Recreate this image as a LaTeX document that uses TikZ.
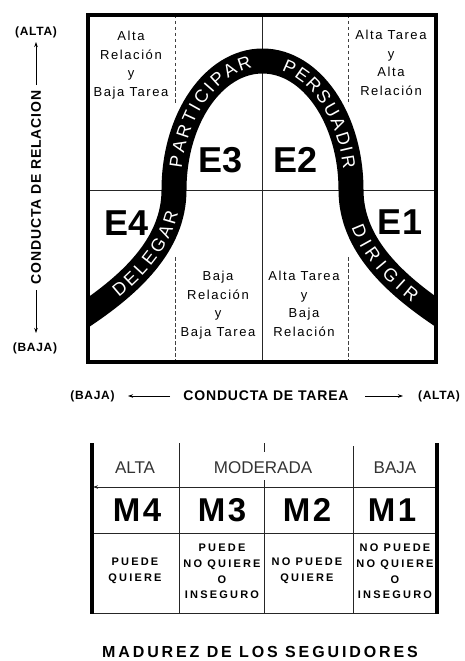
\documentclass[tikz,border=0pt]{standalone}
\usepackage{fontspec}
\setmainfont{Liberation Sans}
\newfontfamily\quadfont[LetterSpace=12]{Liberation Sans}
\newfontfamily\axisfont[LetterSpace=6]{Liberation Sans}
\newfontfamily\smallcapsfont[LetterSpace=20]{Liberation Sans}
\newfontfamily\titlefont[LetterSpace=18]{Liberation Sans}
\newfontfamily\mfont[LetterSpace=8]{Liberation Sans}
\newfontfamily\bandfont{Liberation Sans}
\usetikzlibrary{decorations.text,arrows.meta}
\begin{document}
\begin{tikzpicture}[x=1pt,y=1pt,
  quadtext/.style={align=center,inner sep=0pt,font=\quadfont\fontsize{13}{18.6}\selectfont},
  ebig/.style={inner sep=0pt,font=\bfseries\fontsize{36}{36}\selectfont},
  mbig/.style={inner sep=0pt,font=\mfont\bfseries\fontsize{33}{33}\selectfont},
  headtext/.style={inner sep=0pt,text=black!80,font=\fontsize{17}{17}\selectfont},
  celltext/.style={align=center,inner sep=0pt,font=\smallcapsfont\bfseries\fontsize{11}{15.7}\selectfont},
  axislabel/.style={inner sep=0pt,font=\axisfont\bfseries\fontsize{14}{14}\selectfont},
  parenlabel/.style={inner sep=0pt,font=\axisfont\bfseries\fontsize{12}{12}\selectfont},
  axisarrow/.style={line width=0.8pt,-{Stealth[length=5pt,width=3.5pt]}},
  thinline/.style={line width=0.9pt,black!85},
  dashline/.style={line width=0.8pt,black!75,dash pattern=on 3.5pt off 2.5pt},
]
\useasboundingbox (0,0) rectangle (464,-661);

% quadrant lines
\draw[thinline] (88,-190) -- (435.5,-190);
\draw[thinline] (262,-15) -- (262,-362);
\draw[dashline] (175,-15) -- (175,-104);
\draw[dashline] (175,-257) -- (175,-362);
\draw[dashline] (348,-15) -- (348,-102);
\draw[dashline] (348,-257) -- (348,-362);

% quadrant texts
\node[quadtext] (tl) at (131,-65) {Alta\\Relación\\y\\Baja Tarea};
\node[quadtext] (tr) at (391,-63) {Alta Tarea\\y\\Alta\\Relación};
\node[quadtext] (bl) at (218,-305) {Baja\\Relación\\y\\Baja Tarea};
\node[quadtext] (br) at (304,-304) {Alta Tarea\\y\\Baja\\Relación};

% the bell band
\begin{scope}
\clip (88,-15) rectangle (435.5,-362);
\draw[line width=25pt] (80,-318) .. controls (130,-285) and (174,-245) .. (174,-190)
  .. controls (174,-118.75) and (213.6,-61) .. (262.5,-61)
  .. controls (311.4,-61) and (351,-118.75) .. (351,-190)
  .. controls (351,-245) and (395,-285) .. (445,-318);
\end{scope}

% words on the band
\path[decorate,decoration={text along path,raise=-6.4pt,
   text={|\bandfont\fontsize{18}{18}\selectfont\color{white}\kern2.6pt|DELEGAR},
   text align={align=center,left indent=41pt,right indent=22pt}}]
  (80,-318) .. controls (130,-285) and (174,-245) .. (174,-190);
\path[decorate,decoration={text along path,raise=-6.4pt,
   text={|\bandfont\fontsize{18}{18}\selectfont\color{white}\kern3.3pt|PARTICIPAR},
   text align={align=center,left indent=19pt,right indent=12pt}}]
  (174,-190) .. controls (174,-118.75) and (213.6,-61) .. (262.5,-61);
\path[decorate,decoration={text along path,raise=-6.4pt,
   text={|\bandfont\fontsize{18}{18}\selectfont\color{white}\kern2.9pt|PERSUADIR},
   text align={align=center,left indent=19pt,right indent=22pt}}]
  (262.5,-61) .. controls (311.4,-61) and (351,-118.75) .. (351,-190);
\path[decorate,decoration={text along path,raise=-6.4pt,
   text={|\bandfont\fontsize{18}{18}\selectfont\color{white}\kern4.4pt|DIRIGIR},
   text align={align=center,left indent=32pt,right indent=36pt}}]
  (351,-190) .. controls (351,-245) and (395,-285) .. (445,-318);

% E labels
\node[ebig] (e3) at (221,-160) {E3};
\node[ebig] (e2) at (296,-160) {E2};
\node[ebig] (e4) at (127,-223.5) {E4};
\node[ebig] (e1) at (400,-222.5) {E1};

% box border
\draw[line width=4pt] (88,-15) rectangle (435.5,-362);

% vertical axis
\node[parenlabel] (altaL) at (36,-32) {(ALTA)};
\node[parenlabel] (bajaL) at (35,-348) {(BAJA)};
\node[axislabel,rotate=90] (relac) at (36,-187.5) {CONDUCTA DE RELACION};
\coordinate (va1) at (36,-85);
\coordinate (va2) at (36,-42);
\coordinate (vb1) at (36,-290);
\coordinate (vb2) at (36,-333);
\draw[axisarrow] (va1) -- (va2);
\draw[axisarrow] (vb1) -- (vb2);

% horizontal axis
\node[parenlabel] (bajaB) at (92.5,-396) {(BAJA)};
\node[axislabel] (tarea) at (266,-396) {CONDUCTA DE TAREA};
\node[parenlabel] (altaB) at (439,-396) {(ALTA)};
\coordinate (ha1) at (170,-396);
\coordinate (ha2) at (128,-396);
\coordinate (hb1) at (365,-396);
\coordinate (hb2) at (403,-396);
\draw[axisarrow] (ha1) -- (ha2);
\draw[axisarrow] (hb1) -- (hb2);

% maturity table
\draw[thinline] (179,-443) -- (179,-613);
\draw[thinline] (353,-446) -- (353,-613);
\draw[thinline] (264,-443) -- (264,-452);
\draw[thinline] (264,-480) -- (264,-613);
\draw[thinline] (92,-533) -- (437,-533);
\draw[thinline] (92,-613) -- (437,-613);
\coordinate (tr1) at (437,-487);
\coordinate (tr2) at (93,-487);
\draw[thinline,-{Stealth[length=5pt,width=3.5pt]}] (tr1) -- (tr2);
\draw[line width=4pt] (92,-443) -- (92,-614);
\draw[line width=4pt] (437,-443) -- (437,-614);

\node[headtext] (hA) at (135,-468) {ALTA};
\node[headtext] (hM) at (263,-468) {MODERADA};
\node[headtext] (hB) at (395,-468) {BAJA};

\node[mbig] (m4) at (137,-510) {M4};
\node[mbig] (m3) at (222,-510) {M3};
\node[mbig] (m2) at (307,-510) {M2};
\node[mbig] (m1) at (392,-510) {M1};

\node[celltext] (c4) at (135,-571) {PUEDE\\QUIERE};
\node[celltext] (c3) at (222,-571.5) {PUEDE\\NO QUIERE\\O\\INSEGURO};
\node[celltext] (c2) at (307,-571) {NO PUEDE\\QUIERE};
\node[celltext] (c1) at (395,-571.5) {NO PUEDE\\NO QUIERE\\O\\INSEGURO};

\node[inner sep=0pt,font=\titlefont\bfseries\fontsize{16}{16}\selectfont] (title) at (260,-652) {MADUREZ DE LOS SEGUIDORES};
\end{tikzpicture}
\end{document}
